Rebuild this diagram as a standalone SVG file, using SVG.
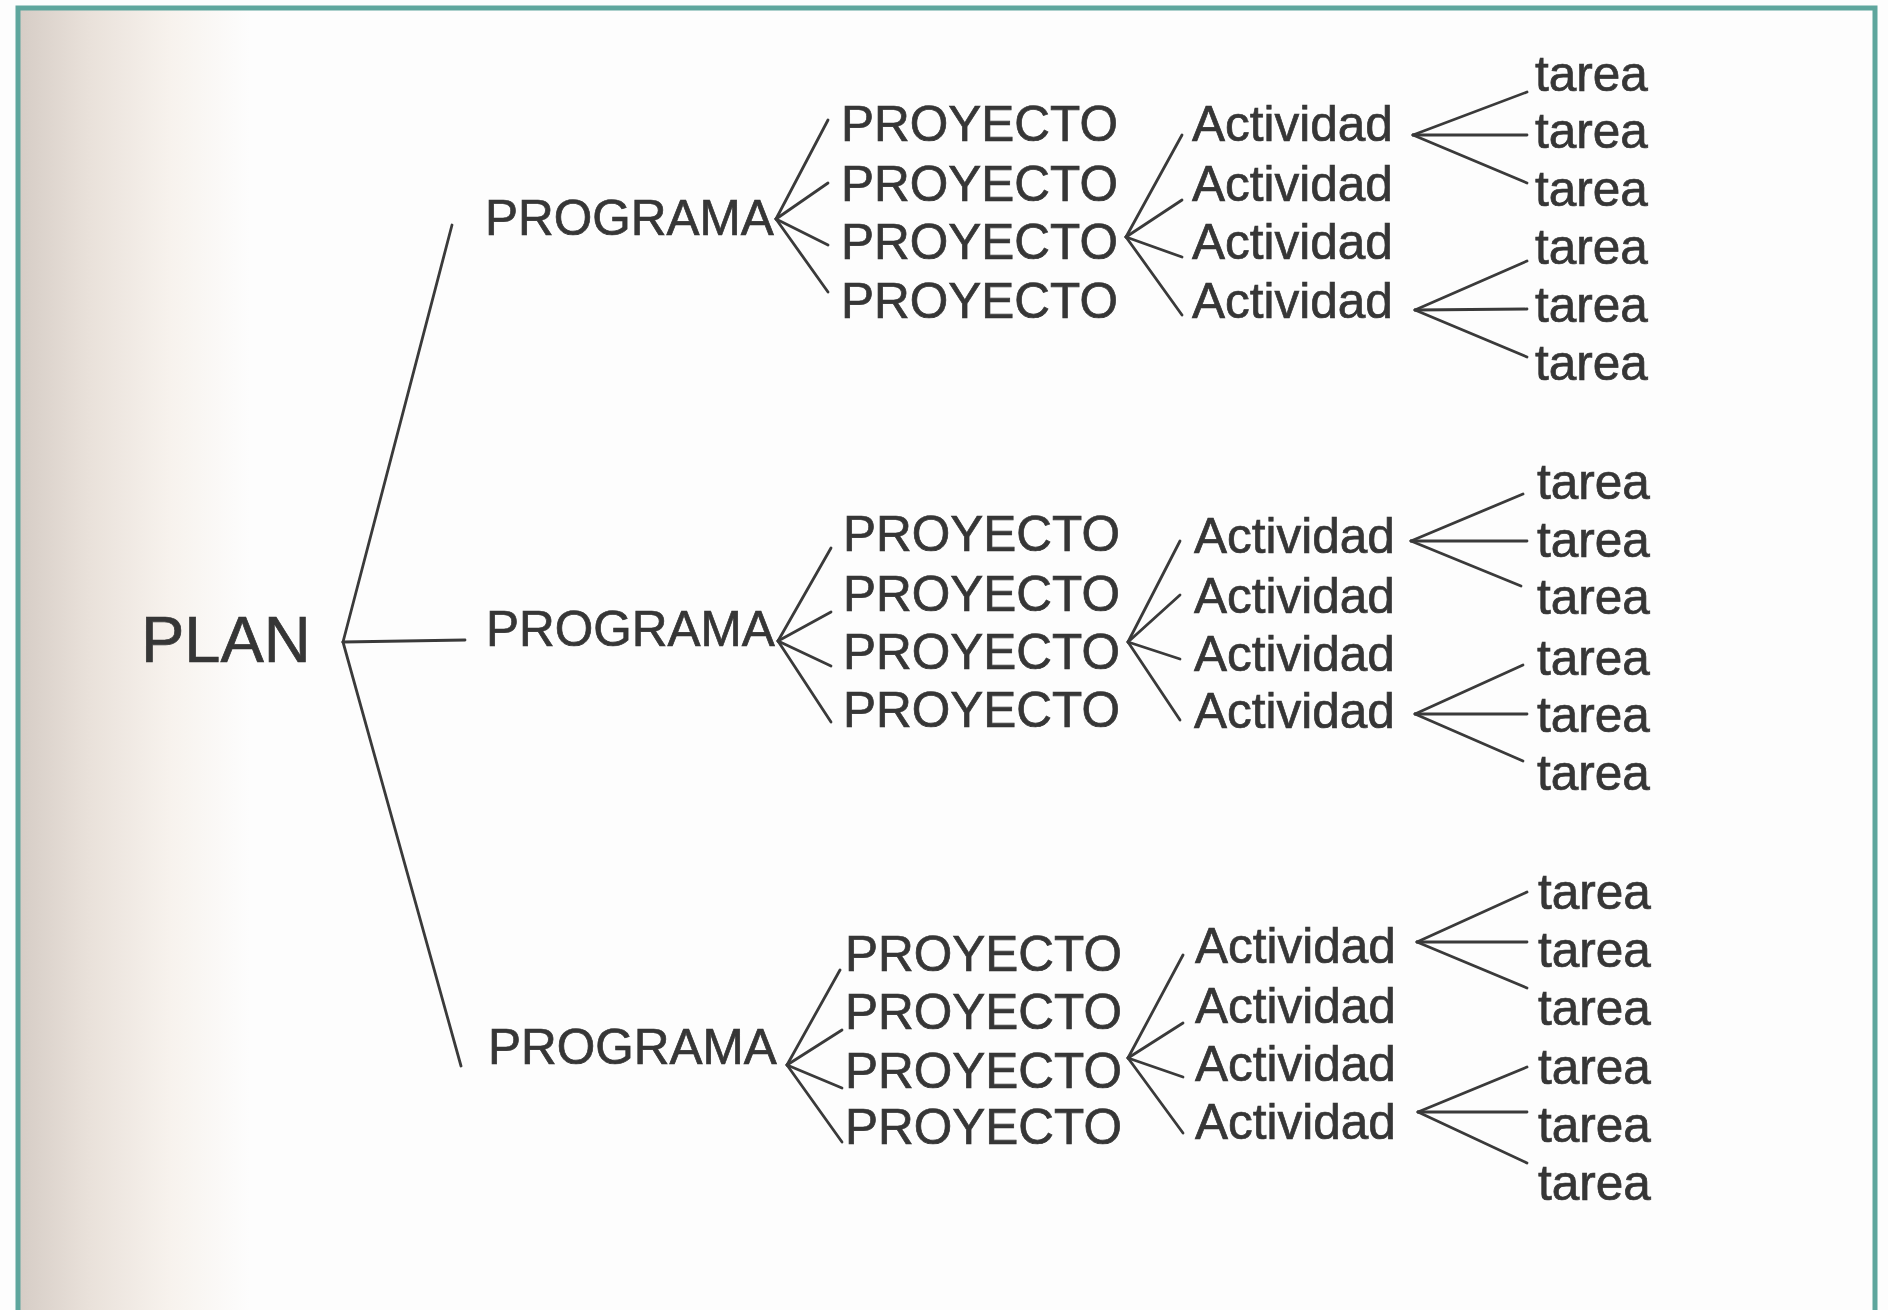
<svg xmlns="http://www.w3.org/2000/svg" width="1888" height="1310" viewBox="0 0 1888 1310">
<defs>
<linearGradient id="paper" x1="0" y1="0" x2="1" y2="0">
<stop offset="0" stop-color="#d6cdc6"/>
<stop offset="0.3" stop-color="#e9e1da"/>
<stop offset="0.65" stop-color="#f7f2ed"/>
<stop offset="1" stop-color="#fdfdfd"/>
</linearGradient>
<style>
.t{font-family:"Liberation Sans",Arial,Helvetica,sans-serif;fill:#363636;stroke:#363636;stroke-width:0.7}
.m{font-size:49.5px}
.big{font-size:65px}
.c line{stroke:#3a3a3a;stroke-width:2.8;stroke-linecap:round;fill:none}
</style>
</defs>
<rect x="0" y="0" width="1888" height="1310" fill="#fdfdfd"/>
<rect x="20" y="10" width="230" height="1300" fill="url(#paper)"/>
<path d="M18,1312 V8 H1875 V1312" fill="none" stroke="#5ea69d" stroke-width="5"/>

<g id="connectors" class="c">
<line x1="343" y1="642" x2="452" y2="225"/>
<line x1="343" y1="642" x2="465" y2="640"/>
<line x1="343" y1="642" x2="461" y2="1066"/>

<line x1="776" y1="219" x2="828" y2="120"/>
<line x1="776" y1="219" x2="828" y2="183"/>
<line x1="776" y1="219" x2="828" y2="245"/>
<line x1="776" y1="219" x2="828" y2="292"/>
<line x1="1126" y1="237" x2="1182" y2="135"/>
<line x1="1126" y1="237" x2="1182" y2="200"/>
<line x1="1126" y1="237" x2="1182" y2="257"/>
<line x1="1126" y1="237" x2="1182" y2="315"/>
<line x1="1413" y1="135" x2="1527" y2="92"/>
<line x1="1413" y1="135" x2="1527" y2="135"/>
<line x1="1413" y1="135" x2="1527" y2="183"/>
<line x1="1415" y1="310" x2="1527" y2="261"/>
<line x1="1415" y1="310" x2="1527" y2="309"/>
<line x1="1415" y1="310" x2="1527" y2="357"/>

<line x1="778" y1="641" x2="831" y2="548"/>
<line x1="778" y1="641" x2="831" y2="612"/>
<line x1="778" y1="641" x2="831" y2="666"/>
<line x1="778" y1="641" x2="831" y2="722"/>
<line x1="1128" y1="642" x2="1180" y2="541"/>
<line x1="1128" y1="642" x2="1180" y2="595"/>
<line x1="1128" y1="642" x2="1180" y2="659"/>
<line x1="1128" y1="642" x2="1180" y2="720"/>
<line x1="1411" y1="541" x2="1523" y2="494"/>
<line x1="1411" y1="541" x2="1527" y2="541"/>
<line x1="1411" y1="541" x2="1521" y2="586"/>
<line x1="1415" y1="714" x2="1523" y2="665"/>
<line x1="1415" y1="714" x2="1527" y2="714"/>
<line x1="1415" y1="714" x2="1523" y2="761"/>

<line x1="787" y1="1065" x2="840" y2="970"/>
<line x1="787" y1="1065" x2="842" y2="1030"/>
<line x1="787" y1="1065" x2="842" y2="1088"/>
<line x1="787" y1="1065" x2="842" y2="1142"/>
<line x1="1128" y1="1058" x2="1183" y2="955"/>
<line x1="1128" y1="1058" x2="1183" y2="1023"/>
<line x1="1128" y1="1058" x2="1183" y2="1077"/>
<line x1="1128" y1="1058" x2="1183" y2="1133"/>
<line x1="1417" y1="942" x2="1527" y2="892"/>
<line x1="1417" y1="942" x2="1527" y2="942"/>
<line x1="1417" y1="942" x2="1527" y2="988"/>
<line x1="1418" y1="1112" x2="1527" y2="1067"/>
<line x1="1418" y1="1112" x2="1527" y2="1112"/>
<line x1="1418" y1="1112" x2="1527" y2="1163"/>
</g>

<g id="plan"><text class="t big" x="141" y="662">PLAN</text></g>

<g id="programa1"><text class="t m" x="485" y="235">PROGRAMA</text></g>
<g id="programa2"><text class="t m" x="486" y="646">PROGRAMA</text></g>
<g id="programa3"><text class="t m" x="488" y="1064">PROGRAMA</text></g>

<g id="proyectos1">
<text class="t m" x="841" y="141">PROYECTO</text>
<text class="t m" x="841" y="201">PROYECTO</text>
<text class="t m" x="841" y="259">PROYECTO</text>
<text class="t m" x="841" y="318">PROYECTO</text>
</g>
<g id="proyectos2">
<text class="t m" x="843" y="551">PROYECTO</text>
<text class="t m" x="843" y="611">PROYECTO</text>
<text class="t m" x="843" y="669">PROYECTO</text>
<text class="t m" x="843" y="727">PROYECTO</text>
</g>
<g id="proyectos3">
<text class="t m" x="845" y="971">PROYECTO</text>
<text class="t m" x="845" y="1029">PROYECTO</text>
<text class="t m" x="845" y="1088">PROYECTO</text>
<text class="t m" x="845" y="1144">PROYECTO</text>
</g>

<g id="actividades1">
<text class="t m" x="1192" y="141">Actividad</text>
<text class="t m" x="1192" y="201">Actividad</text>
<text class="t m" x="1192" y="259">Actividad</text>
<text class="t m" x="1192" y="318">Actividad</text>
</g>
<g id="actividades2">
<text class="t m" x="1194" y="553">Actividad</text>
<text class="t m" x="1194" y="613">Actividad</text>
<text class="t m" x="1194" y="671">Actividad</text>
<text class="t m" x="1194" y="728">Actividad</text>
</g>
<g id="actividades3">
<text class="t m" x="1195" y="963">Actividad</text>
<text class="t m" x="1195" y="1023">Actividad</text>
<text class="t m" x="1195" y="1081">Actividad</text>
<text class="t m" x="1195" y="1139">Actividad</text>
</g>

<g id="tareas1">
<text class="t m" x="1535" y="91">tarea</text>
<text class="t m" x="1535" y="148">tarea</text>
<text class="t m" x="1535" y="206">tarea</text>
<text class="t m" x="1535" y="264">tarea</text>
<text class="t m" x="1535" y="322">tarea</text>
<text class="t m" x="1535" y="380">tarea</text>
</g>
<g id="tareas2">
<text class="t m" x="1537" y="499">tarea</text>
<text class="t m" x="1537" y="557">tarea</text>
<text class="t m" x="1537" y="614">tarea</text>
<text class="t m" x="1537" y="675">tarea</text>
<text class="t m" x="1537" y="732">tarea</text>
<text class="t m" x="1537" y="790">tarea</text>
</g>
<g id="tareas3">
<text class="t m" x="1538" y="909">tarea</text>
<text class="t m" x="1538" y="967">tarea</text>
<text class="t m" x="1538" y="1025">tarea</text>
<text class="t m" x="1538" y="1084">tarea</text>
<text class="t m" x="1538" y="1142">tarea</text>
<text class="t m" x="1538" y="1200">tarea</text>
</g>
</svg>
